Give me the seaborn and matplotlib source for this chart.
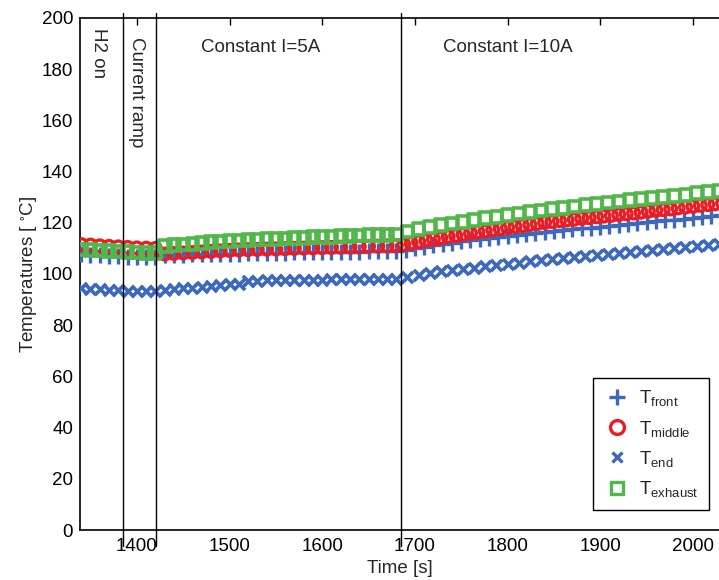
import matplotlib
matplotlib.use("Agg")
import matplotlib.pyplot as plt
from matplotlib.lines import Line2D
import seaborn as sns
import pandas as pd

# ---------------- data ----------------
t_front = [1340, 1350, 1360, 1370, 1380, 1390, 1400, 1410, 1420, 1430, 1440, 1450, 1460, 1470,
           1480, 1490, 1500, 1510, 1520, 1530, 1540, 1550, 1560, 1570, 1580, 1590, 1600, 1610,
           1620, 1630, 1640, 1650, 1660, 1670, 1680, 1690, 1700, 1710, 1720, 1730, 1740, 1750,
           1760, 1770, 1780, 1790, 1800, 1810, 1820, 1830, 1840, 1850, 1860, 1870, 1880, 1890,
           1900, 1910, 1920, 1930, 1940, 1950, 1960, 1970, 1980, 1990, 2000, 2010, 2020, 2030]
T_front = [107.8, 107.6, 107.4, 107.2, 107.0, 106.8, 106.6, 106.5, 106.6, 107.4, 107.5, 107.6,
           107.7, 107.7, 107.8, 107.9, 108.0, 108.0, 108.1, 108.2, 108.2, 108.3, 108.3, 108.4,
           108.4, 108.5, 108.5, 108.6, 108.6, 108.7, 108.7, 108.8, 108.8, 108.9, 108.9, 109.4,
           110.0, 110.6, 111.2, 111.7, 112.2, 112.7, 113.2, 113.6, 114.0, 114.4, 114.8, 115.2,
           115.6, 116.0, 116.3, 116.7, 117.0, 117.4, 117.8, 118.1, 118.5, 118.8, 119.2, 119.5,
           119.9, 120.2, 120.6, 120.9, 121.2, 121.6, 121.9, 122.3, 122.6, 122.9]

t_middle = [1340, 1350, 1360, 1370, 1380, 1390, 1400, 1410, 1420, 1430, 1440, 1450, 1460, 1470,
            1480, 1490, 1500, 1510, 1520, 1530, 1540, 1550, 1560, 1570, 1580, 1590, 1600, 1610,
            1620, 1630, 1640, 1650, 1660, 1670, 1680, 1688, 1696, 1704, 1712, 1720, 1728, 1736,
            1744, 1752, 1760, 1768, 1776, 1784, 1792, 1800, 1808, 1816, 1824, 1832, 1840, 1848,
            1856, 1864, 1872, 1880, 1888, 1896, 1904, 1912, 1920, 1928, 1936, 1944, 1952, 1960,
            1968, 1976, 1984, 1992, 2000, 2008, 2016, 2024, 2032]
T_middle = [111.5, 111.3, 111.0, 110.8, 110.6, 110.4, 110.2, 110.1, 110.0, 107.8, 108.0, 108.2,
            108.4, 108.6, 108.8, 109.0, 109.2, 109.4, 109.5, 109.6, 109.7, 109.8, 109.9, 110.0,
            110.1, 110.2, 110.3, 110.4, 110.5, 110.6, 110.7, 110.8, 110.9, 111.0, 111.1, 111.5,
            112.0, 112.6, 113.1, 113.6, 114.1, 114.6, 115.0, 115.5, 115.9, 116.4, 116.8, 117.3,
            117.7, 118.1, 118.5, 118.9, 119.3, 119.7, 120.1, 120.5, 120.8, 121.1, 121.4, 121.7,
            122.0, 122.3, 122.6, 122.9, 123.2, 123.5, 123.8, 124.1, 124.5, 124.8, 125.1, 125.4,
            125.8, 126.1, 126.4, 126.8, 127.1, 127.4, 127.7]

t_end = [1340, 1350, 1360, 1370, 1380, 1390, 1400, 1410, 1420, 1430, 1440, 1450, 1460, 1470,
         1480, 1490, 1500, 1510, 1520, 1530, 1540, 1550, 1560, 1570, 1580, 1590, 1600, 1610,
         1620, 1630, 1640, 1650, 1660, 1670, 1680, 1692, 1704, 1716, 1728, 1740, 1752, 1764,
         1776, 1788, 1800, 1812, 1824, 1836, 1848, 1860, 1872, 1884, 1896, 1908, 1920, 1932,
         1944, 1956, 1968, 1980, 1992, 2004, 2016, 2028]
T_end = [94.5, 94.3, 94.1, 93.9, 93.7, 93.5, 93.4, 93.4, 93.5, 93.8, 94.1, 94.4, 94.7, 95.0,
         95.3, 95.6, 95.9, 96.2, 97.3, 97.4, 97.5, 97.6, 97.6, 97.7, 97.7, 97.8, 97.8, 97.9,
         97.9, 98.0, 98.0, 98.1, 98.1, 98.2, 98.2, 98.8, 99.8, 100.5, 101.0, 101.5, 102.0, 102.5,
         103.0, 103.5, 104.0, 104.4, 104.9, 105.3, 105.7, 106.1, 106.5, 106.9, 107.3, 107.7,
         108.1, 108.5, 108.9, 109.3, 109.7, 110.1, 110.5, 110.9, 111.3, 111.7]

t_exhaust = [1340, 1350, 1360, 1370, 1380, 1390, 1400, 1410, 1420, 1430, 1440, 1450, 1460, 1470,
             1480, 1490, 1500, 1510, 1520, 1530, 1540, 1550, 1560, 1570, 1580, 1590, 1600, 1610,
             1620, 1630, 1640, 1650, 1660, 1670, 1680, 1692, 1704, 1716, 1728, 1740, 1752, 1764,
             1776, 1788, 1800, 1812, 1824, 1836, 1848, 1860, 1872, 1884, 1896, 1908, 1920, 1932,
             1944, 1956, 1968, 1980, 1992, 2004, 2016, 2028]
T_exhaust = [109.6, 109.4, 109.2, 109.0, 108.8, 108.6, 108.4, 108.2, 108.1, 110.8, 111.2, 111.5,
             111.8, 112.1, 112.4, 112.7, 112.9, 113.1, 113.3, 113.5, 113.6, 113.8, 113.9, 114.1,
             114.2, 114.4, 114.5, 114.6, 114.8, 114.9, 115.0, 115.1, 115.2, 115.3, 115.4, 116.6,
             117.5, 118.3, 119.0, 119.7, 120.4, 121.1, 121.8, 122.4, 123.0, 123.6, 124.2, 124.8,
             125.3, 125.9, 126.4, 126.9, 127.4, 127.9, 128.3, 128.8, 129.2, 129.7, 130.1, 130.6,
             131.0, 131.5, 131.9, 132.4]

event_times = [1385, 1421, 1685]
labels = ["T$_{front}$", "T$_{middle}$", "T$_{end}$", "T$_{exhaust}$"]

# ---------------- style ----------------
sns.set_style("white")
plt.rcParams["font.family"] = ["Liberation Sans", "DejaVu Sans"]
plt.rcParams["mathtext.default"] = "regular"
FS = 13.5

c_blue = "#3c69bd"
c_red = "#ec1c24"
c_green = "#4fb848"

fig = plt.figure(figsize=(7.19, 5.80), dpi=100)
ax = fig.add_axes([0.1113, 0.0862, 0.8885, 0.8828])

df_f = pd.DataFrame({"t": t_front, "T": T_front})
df_m = pd.DataFrame({"t": t_middle, "T": T_middle})
df_e = pd.DataFrame({"t": t_end, "T": T_end})
df_x = pd.DataFrame({"t": t_exhaust, "T": T_exhaust})

sns.scatterplot(data=df_f, x="t", y="T", ax=ax, marker="+", s=120, color=c_blue,
                linewidth=2.4, zorder=3)
sns.scatterplot(data=df_m, x="t", y="T", ax=ax, marker="o", s=70, facecolor="none",
                edgecolor=c_red, linewidth=2.4, zorder=4)
sns.scatterplot(data=df_e, x="t", y="T", ax=ax, marker="x", s=65, color=c_blue,
                linewidth=2.6, zorder=5)
sns.scatterplot(data=df_x, x="t", y="T", ax=ax, marker="s", s=72, facecolor="none",
                edgecolor=c_green, linewidth=2.6, zorder=6)

for tv in event_times:
    ax.plot([tv, tv], [-6.3, 202], color="black", lw=1.0, clip_on=False, zorder=7)

ax.set_xlim(1338.7, 2028)
ax.set_ylim(0, 200)
ax.set_xticks([1400, 1500, 1600, 1700, 1800, 1900, 2000])
ax.set_yticks(list(range(0, 201, 20)))
ax.tick_params(axis="both", direction="in", length=5, width=1.0, labelsize=FS,
               top=True, right=False, colors="black")
ax.tick_params(axis="x", pad=6)
ax.tick_params(axis="y", pad=5)
ax.set_xlabel("Time [s]", fontsize=FS, labelpad=3)
ax.set_ylabel("Temperatures [ $^{\\circ}$C]", fontsize=FS, labelpad=2)

for side in ["left", "bottom", "top"]:
    ax.spines[side].set_color("black")
    ax.spines[side].set_linewidth(1.2)
ax.spines["right"].set_visible(False)

ax.text(1359, 196, "H2 on", rotation=-90, ha="center", va="top", fontsize=FS)
ax.text(1400, 192.5, "Current ramp", rotation=-90, ha="center", va="top", fontsize=FS)
ax.text(1469, 188.5, "Constant I=5A", ha="left", va="center", fontsize=FS)
ax.text(1730, 188.5, "Constant I=10A", ha="left", va="center", fontsize=FS)

handles = [
    Line2D([], [], linestyle="none", marker="+", markersize=11, markeredgewidth=2.4, color=c_blue),
    Line2D([], [], linestyle="none", marker="o", markersize=10, markeredgewidth=2.4,
           markerfacecolor="none", markeredgecolor=c_red),
    Line2D([], [], linestyle="none", marker="x", markersize=7.5, markeredgewidth=2.4, color=c_blue),
    Line2D([], [], linestyle="none", marker="s", markersize=8.5, markeredgewidth=2.4,
           markerfacecolor="none", markeredgecolor=c_green),
]
leg = ax.legend(handles, labels, loc="lower right", bbox_to_anchor=(0.985, 0.04),
                borderaxespad=0, fontsize=FS, frameon=True, fancybox=False,
                framealpha=1, edgecolor="black", handletextpad=0.5, labelspacing=0.55,
                borderpad=0.55, handlelength=1.4)
leg.get_frame().set_linewidth(1.0)
leg.set_zorder(10)

fig.savefig("out.png", dpi=100)
